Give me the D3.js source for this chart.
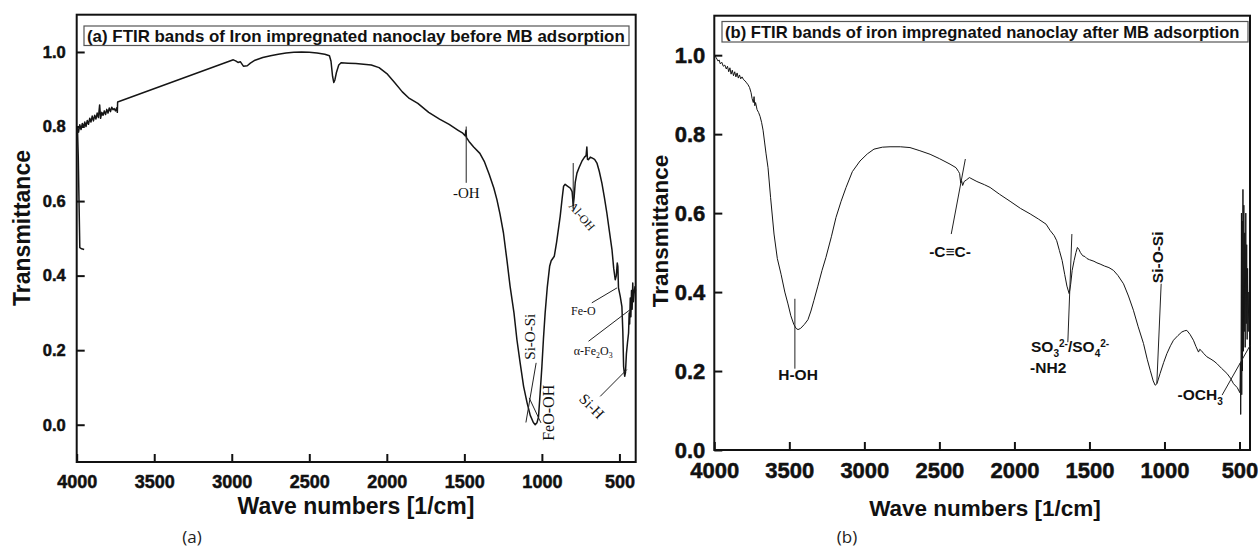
<!DOCTYPE html>
<html>
<head>
<meta charset="utf-8">
<script src="https://cdn.jsdelivr.net/npm/d3@7/dist/d3.min.js"></script>
<style>
  html, body { margin: 0; padding: 0; background: #fff; }
  svg { display: block; }
</style>
</head>
<body>
<svg id="chart" width="1258" height="550"></svg>
<script>
/* Two FTIR spectra side by side: iron impregnated nanoclay before (a)
   and after (b) MB adsorption. */

var xTicks = [4000, 3500, 3000, 2500, 2000, 1500, 1000, 500];
var yTicksA = [0.0, 0.2, 0.4, 0.6, 0.8, 1.0];
var yTicksB = [0.0, 0.2, 0.4, 0.6, 0.8, 1.0];

var titleA = "(a) FTIR bands of Iron impregnated nanoclay before MB adsorption";
var titleB = "(b) FTIR bands of iron impregnated nanoclay after MB adsorption";

/* spectrum (a) — wavenumber [1/cm] and transmittance */
var waveA = [3952, 3968, 3980, 3990, 3995, 3988, 3980, 3972, 3964, 3956, 3948, 3940, 3932, 3924, 3916, 3908,
  3900, 3892, 3884, 3876, 3868, 3860, 3852, 3846, 3838, 3830, 3822, 3814, 3806, 3798, 3790, 3782, 3774,
  3766, 3758, 3750, 3742, 3738, 3736, 2990, 2975, 2960, 2945, 2925, 2900, 2880, 2850, 2800, 2750, 2700,
  2650, 2600, 2550, 2500, 2450, 2400, 2370, 2360, 2350, 2342, 2335, 2325, 2310, 2295, 2250, 2200, 2150,
  2100, 2050, 2000, 1950, 1900, 1860, 1800, 1730, 1660, 1598, 1540, 1510, 1495, 1490, 1486, 1470,
  1440, 1400, 1370, 1340, 1310, 1290, 1270, 1248, 1225, 1205, 1180, 1161, 1140, 1118, 1095, 1075, 1055,
  1043, 1032, 1022, 1012, 1000, 990, 979, 965, 950, 940, 930, 920, 905, 890, 882, 870, 860, 850, 835,
  817, 805, 798, 792, 785, 774, 760, 742, 725, 715, 710, 706, 699, 688, 677, 660, 645, 630, 613, 597,
  581, 565, 548, 537, 527, 520, 514, 510, 506, 495, 484, 478, 473, 466, 461, 455, 448, 441, 437, 434,
  430, 426, 422, 418, 414, 410, 406, 400, 396];
var transA = [0.470, 0.472, 0.475, 0.720, 0.795, 0.785, 0.805, 0.792, 0.808, 0.798, 0.812, 0.800, 0.816,
  0.806, 0.822, 0.812, 0.828, 0.815, 0.830, 0.820, 0.836, 0.824, 0.858, 0.822, 0.838, 0.830, 0.842, 0.832,
  0.846, 0.836, 0.850, 0.840, 0.852, 0.845, 0.848, 0.842, 0.850, 0.838, 0.866, 0.979, 0.976, 0.972, 0.974,
  0.962, 0.963, 0.970, 0.978, 0.985, 0.990, 0.994, 0.997, 0.999, 1.000, 0.999, 0.997, 0.994, 0.990, 0.975,
  0.935, 0.918, 0.925, 0.945, 0.965, 0.971, 0.970, 0.969, 0.967, 0.965, 0.958, 0.942, 0.918, 0.893, 0.877,
  0.862, 0.838, 0.820, 0.806, 0.790, 0.782, 0.775, 0.790, 0.770, 0.760, 0.745, 0.728, 0.705, 0.672,
  0.635, 0.604, 0.565, 0.515, 0.440, 0.371, 0.300, 0.228, 0.165, 0.103, 0.058, 0.025, 0.006, 0.000, 0.005,
  0.020, 0.080, 0.156, 0.230, 0.300, 0.370, 0.425, 0.440, 0.446, 0.452, 0.490, 0.535, 0.559, 0.605, 0.640,
  0.645, 0.640, 0.635, 0.625, 0.588, 0.610, 0.650, 0.675, 0.690, 0.707, 0.718, 0.722, 0.745, 0.712, 0.711,
  0.718, 0.716, 0.712, 0.702, 0.680, 0.648, 0.610, 0.568, 0.520, 0.470, 0.420, 0.389, 0.400, 0.434, 0.425,
  0.367, 0.345, 0.317, 0.250, 0.156, 0.130, 0.140, 0.190, 0.220, 0.246, 0.300, 0.270, 0.340, 0.290, 0.360,
  0.310, 0.380, 0.330, 0.350, 0.370, 0.360];

/* spectrum (b) */
var waveB = [3998, 3990, 3982, 3975, 3968, 3960, 3950, 3940, 3930, 3920, 3912, 3904, 3896, 3888, 3880,
  3872, 3864, 3856, 3848, 3840, 3832, 3824, 3815, 3805, 3795, 3785, 3775, 3765, 3755, 3748, 3740, 3735,
  3730, 3725, 3715, 3705, 3695, 3685, 3675, 3665, 3655, 3642, 3625, 3602, 3580, 3555, 3530, 3509, 3490,
  3470, 3455, 3442, 3425, 3400, 3376, 3356, 3336, 3310, 3282, 3256, 3220, 3189, 3155, 3122, 3080, 3029,
  2980, 2936, 2880, 2829, 2760, 2696, 2630, 2562, 2500, 2429, 2389, 2372, 2365, 2358, 2352, 2345, 2335,
  2320, 2300, 2290, 2250, 2200, 2162, 2100, 2029, 1960, 1895, 1840, 1789, 1762, 1735, 1718, 1700, 1682,
  1665, 1650, 1635, 1625, 1615, 1602, 1590, 1580, 1570, 1560, 1545, 1530, 1517, 1500, 1470, 1450, 1429,
  1400, 1370, 1340, 1310, 1273, 1240, 1207, 1175, 1140, 1115, 1095, 1075, 1062, 1050, 1029, 1005, 984,
  960, 940, 910, 884, 865, 851, 830, 807, 790, 773, 765, 755, 740, 717, 690, 670, 651, 620, 584, 560,
  540, 515, 497, 494, 492, 490, 487, 485, 482, 480, 477, 474, 471, 468, 465, 462, 458, 455, 452, 449,
  446, 442, 438, 434];
var transB = [1.000, 0.995, 0.990, 0.985, 0.988, 0.978, 0.982, 0.972, 0.975, 0.965, 0.972, 0.958, 0.968,
  0.952, 0.962, 0.948, 0.958, 0.945, 0.955, 0.942, 0.950, 0.940, 0.945, 0.938, 0.935, 0.930, 0.925, 0.918,
  0.905, 0.890, 0.880, 0.895, 0.872, 0.880, 0.862, 0.855, 0.845, 0.830, 0.810, 0.780, 0.750, 0.715, 0.640,
  0.547, 0.485, 0.445, 0.400, 0.370, 0.340, 0.318, 0.308, 0.305, 0.308, 0.318, 0.330, 0.352, 0.379, 0.415,
  0.455, 0.488, 0.540, 0.589, 0.630, 0.665, 0.705, 0.732, 0.750, 0.762, 0.767, 0.768, 0.768, 0.766, 0.758,
  0.749, 0.738, 0.724, 0.715, 0.705, 0.700, 0.676, 0.682, 0.670, 0.680, 0.684, 0.690, 0.688, 0.680, 0.672,
  0.665, 0.648, 0.630, 0.612, 0.598, 0.585, 0.572, 0.556, 0.543, 0.530, 0.505, 0.480, 0.445, 0.415, 0.396,
  0.420, 0.455, 0.480, 0.500, 0.513, 0.508, 0.500, 0.492, 0.490, 0.485, 0.482, 0.478, 0.474, 0.471, 0.466,
  0.462, 0.455, 0.442, 0.421, 0.390, 0.354, 0.312, 0.270, 0.230, 0.202, 0.175, 0.164, 0.168, 0.194, 0.222,
  0.244, 0.264, 0.278, 0.290, 0.299, 0.302, 0.303, 0.293, 0.278, 0.262, 0.248, 0.255, 0.252, 0.245, 0.236,
  0.230, 0.225, 0.219, 0.207, 0.194, 0.182, 0.168, 0.158, 0.145, 0.220, 0.090, 0.200, 0.600, 0.140, 0.580,
  0.200, 0.660, 0.250, 0.620, 0.300, 0.550, 0.260, 0.600, 0.320, 0.520, 0.280, 0.460, 0.300, 0.400, 0.330];

/* band labels: text pieces, anchor (wavenumber, transmittance), rotation */
var bandsA = [
  { parts: [["-OH"]], w: 1488, t: 0.609, rot: 0, size: 15 },
  { parts: [["Al-OH"]], w: 762, t: 0.552, rot: 50, size: 12 },
  { parts: [["Fe-O"]], w: 733, t: 0.295, rot: 0, size: 12 },
  { parts: [["\u03b1-Fe"], ["2", "sub"], ["O"], ["3", "sub"]], w: 669, t: 0.188, rot: 0, size: 12 },
  { parts: [["Si-H"]], w: 701, t: 0.040, rot: 45, size: 15 },
  { parts: [["Si-O-Si"]], w: 1043, t: 0.236, rot: -90, size: 15 },
  { parts: [["FeO-OH"]], w: 925, t: 0.032, rot: -90, size: 16 }
];
var pointersA = [
  [1488, 0.800, 1488, 0.649],
  [798, 0.702, 798, 0.577],
  [678, 0.327, 516, 0.367],
  [699, 0.224, 430, 0.309],
  [624, 0.076, 452, 0.148],
  [1037, 0.166, 1103, 0.006],
  [1082, 0.072, 1006, 0.005]
];
var bandsB = [
  { parts: [["H-OH"]], w: 3442, t: 0.177, rot: 0, size: 15.5 },
  { parts: [["-C\u2261C-"]], w: 2429, t: 0.488, rot: 0, size: 15.5 },
  { parts: [["SO"], ["3", "sub"], ["2-", "sup"], ["/SO"], ["4", "sub"], ["2-", "sup"]], w: 1629, t: 0.248, rot: 0, size: 15.5 },
  { parts: [["-NH2"]], w: 1775, t: 0.194, rot: 0, size: 15.5 },
  { parts: [["Si-O-Si"]], w: 1007, t: 0.488, rot: -90, size: 15.5 },
  { parts: [["-OCH"], ["3", "sub"]], w: 762, t: 0.126, rot: 0, size: 15.5 }
];
var pointersB = [
  [3463, 0.383, 3463, 0.206],
  [2421, 0.547, 2327, 0.737],
  [1644, 0.273, 1617, 0.547],
  [1022, 0.421, 1051, 0.168],
  [616, 0.139, 429, 0.265]
];

var SANS = "'Liberation Sans', Arial, Helvetica, sans-serif";
var SERIF = "'Liberation Serif', 'Times New Roman', serif";

var svg = d3.select("#chart");

function drawPanel(p) {
  var x = d3.scaleLinear().domain(p.xDomain).range([p.left, p.right]);
  var y = d3.scaleLinear().domain(p.yDomain).range([p.bottom, p.top]);
  var g = svg.append("g");

  /* axes — ticks point inward, frame drawn separately */
  var ax = g.append("g")
    .attr("transform", "translate(0," + p.bottom + ")")
    .call(d3.axisBottom(x).tickValues(xTicks).tickSizeInner(-8).tickSizeOuter(0)
      .tickPadding(p.xPad).tickFormat(d3.format("d")));
  var ay = g.append("g")
    .attr("transform", "translate(" + p.left + ",0)")
    .call(d3.axisLeft(y).tickValues(p.yTicks).tickSizeInner(-8).tickSizeOuter(0)
      .tickPadding(p.yPad).tickFormat(d3.format(".1f")));
  [ax, ay].forEach(function (a) {
    a.select(".domain").remove();
    a.selectAll(".tick line").attr("stroke", "#111").attr("stroke-width", 2);
    a.selectAll(".tick text").attr("fill", "#111").attr("font-family", SANS).attr("font-weight", "bold")
      .attr("stroke", "#111").attr("stroke-width", 0.5);
  });
  ax.selectAll(".tick text").attr("font-size", p.xFont);
  ay.selectAll(".tick text").attr("font-size", p.yFont);

  g.append("rect")
    .attr("x", p.left).attr("y", p.top)
    .attr("width", p.right - p.left).attr("height", p.bottom - p.top)
    .attr("fill", "none").attr("stroke", "#111").attr("stroke-width", 2);

  /* spectrum */
  var pts = p.wave.map(function (w, i) { return [w, p.trans[i]]; });
  var line = d3.line().x(function (d) { return x(d[0]); }).y(function (d) { return y(d[1]); });
  g.append("path")
    .datum(pts)
    .attr("d", line)
    .attr("fill", "none")
    .attr("stroke", "#151515")
    .attr("stroke-width", p.lineW)
    .attr("stroke-linejoin", "round");

  /* pointer lines + band labels */
  p.pointers.forEach(function (l) {
    g.append("line")
      .attr("x1", x(l[0])).attr("y1", y(l[1]))
      .attr("x2", x(l[2])).attr("y2", y(l[3]))
      .attr("stroke", "#222").attr("stroke-width", 1);
  });
  p.bands.forEach(function (b) {
    var cx = x(b.w), cy = y(b.t);
    var t = g.append("text")
      .attr("transform", "translate(" + cx + "," + cy + ") rotate(" + b.rot + ")")
      .attr("text-anchor", "middle")
      .attr("dy", "0.35em")
      .attr("fill", "#111")
      .attr("font-family", p.bandFont)
      .attr("font-weight", p.bandWeight)
      .attr("font-size", b.size);
    var shift = 0;
    b.parts.forEach(function (part) {
      var kind = part[1];
      var want = kind === "sub" ? b.size * 0.3 : kind === "sup" ? -b.size * 0.35 : 0;
      var s = t.append("tspan").attr("dy", want - shift).text(part[0]);
      if (kind) s.attr("font-size", b.size * 0.65);
      shift = want;
    });
  });

  /* legend-style title box */
  g.append("text")
    .attr("x", p.boxX + 3).attr("y", p.boxY + p.boxH - 4)
    .attr("font-family", SANS).attr("font-weight", "bold")
    .attr("font-size", p.titleFont).attr("fill", "#111")
    .text(p.title);
  g.append("rect")
    .attr("x", p.boxX).attr("y", p.boxY)
    .attr("width", p.boxW).attr("height", p.boxH)
    .attr("fill", "none").attr("stroke", "#555").attr("stroke-width", 1.2);

  /* axis titles */
  g.append("text")
    .attr("transform", "translate(" + p.yTitleX + "," + p.yTitleY + ") rotate(-90)")
    .attr("text-anchor", "middle")
    .attr("font-family", SANS).attr("font-weight", "bold")
    .attr("font-size", p.yTitleFont).attr("fill", "#111")
    .text("Transmittance");
  g.append("text")
    .attr("x", p.xTitleX).attr("y", p.xTitleY)
    .attr("text-anchor", "middle")
    .attr("font-family", SANS).attr("font-weight", "bold")
    .attr("font-size", p.xTitleFont).attr("fill", "#111")
    .text("Wave numbers [1/cm]");

  /* sub-figure caption */
  g.append("text")
    .attr("x", p.capX).attr("y", 543)
    .attr("text-anchor", "middle")
    .attr("font-family", "'Open Sans', 'Noto Sans', sans-serif")
    .attr("font-size", 17).attr("fill", "#222")
    .text(p.caption);
}

drawPanel({
  xDomain: [4000, 395], yDomain: [-0.1, 1.1], yTicks: yTicksA,
  left: 76.7, right: 635.7, top: 14.7, bottom: 462,
  xPad: 13, yPad: 11, xFont: 18, yFont: 16.5,
  wave: waveA, trans: transA, lineW: 1.5,
  bands: bandsA, pointers: pointersA, bandFont: SERIF, bandWeight: "normal",
  title: titleA, titleFont: 16.9, boxX: 84, boxY: 26, boxW: 545, boxH: 19.5,
  yTitleX: 30, yTitleY: 228, yTitleFont: 23,
  xTitleX: 356, xTitleY: 514, xTitleFont: 23,
  capX: 192, caption: "(a)"
});

drawPanel({
  xDomain: [4000, 430], yDomain: [0, 1.1], yTicks: yTicksB,
  left: 714.3, right: 1250, top: 15.7, bottom: 450,
  xPad: 12, yPad: 9, xFont: 22, yFont: 22,
  wave: waveB, trans: transB, lineW: 1,
  bands: bandsB, pointers: pointersB, bandFont: SANS, bandWeight: "bold",
  title: titleB, titleFont: 16.6, boxX: 722, boxY: 21.5, boxW: 526, boxH: 20.5,
  yTitleX: 668, yTitleY: 231, yTitleFont: 22.5,
  xTitleX: 985, xTitleY: 516, xTitleFont: 22.5,
  capX: 847, caption: "(b)"
});
</script>
</body>
</html>
